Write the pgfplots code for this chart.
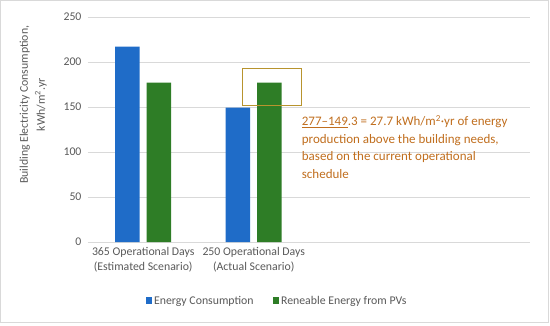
\documentclass[border=0pt]{standalone}
\usepackage{fontspec}
\setmainfont{Carlito}
\usepackage{pgfplots}
\pgfplotsset{compat=1.18}
\definecolor{cblue}{RGB}{31,108,200}
\definecolor{cgreen}{RGB}{46,125,38}
\definecolor{txtc}{RGB}{192,110,30}
\definecolor{boxc}{RGB}{184,148,46}
\definecolor{gridc}{RGB}{217,217,217}
\definecolor{labc}{RGB}{89,89,89}
\begin{document}
\begin{tikzpicture}
\useasboundingbox (-88pt,-83pt) rectangle (462pt,242pt);
\draw[gridc, line width=0.8pt] (-87.5pt,-80pt) rectangle (460pt,241.5pt);
\begin{axis}[
  at={(0pt,0pt)}, anchor=south west,
  scale only axis, width=442pt, height=225pt,
  xmin=-0.5, xmax=3.5, ymin=0, ymax=250,
  ybar=7pt, bar width=24.5pt,
  clip=false,
  separate axis lines,
  axis x line*=bottom, axis y line*=left,
  y axis line style={draw=none},
  x axis line style={draw=gridc, line width=0.8pt, -},
  major tick length=0,
  ytick={0,50,100,150,200,250},
  ymajorgrids, grid style={gridc, line width=0.8pt},
  xtick={0,1},
  xticklabels={{365 Operational Days\\(Estimated Scenario)},{250 Operational Days\\(Actual Scenario)}},
  xticklabel style={align=center, font=\fontsize{11.8}{15}\selectfont, text=labc, yshift=-2pt},
  yticklabel style={font=\fontsize{11.8}{13}\selectfont, text=labc, xshift=-3pt},
  /pgf/number format/assume math mode=true,
  ylabel={Building Electricity Consumption,\\kWh/m\textsuperscript{2}.yr},
  ylabel style={at={(axis description cs:-0.124,0.61)}, anchor=center, align=center, font=\fontsize{11.8}{17}\selectfont, text=labc},
  legend style={at={(axis description cs:0.4276,-0.261)}, anchor=center, draw=none, legend columns=2, font=\fontsize{11.8}{13}\selectfont, text=labc, /tikz/every even column/.append style={column sep=17pt}},
  legend image code/.code={\fill[#1] (0pt,-3pt) rectangle (6.5pt,3.5pt);},
]
\addplot[fill=cblue, draw=none] coordinates {(0,217) (1,149.3)};
\addplot[fill=cgreen, draw=none] coordinates {(0,177) (1,177)};
\legend{Energy Consumption, Reneable Energy from PVs}
\draw[boxc, line width=0.9pt] (axis cs:0.90,152) rectangle (axis cs:1.434,193);
\node[anchor=north west, align=left, inner sep=0pt, text=txtc, font=\fontsize{13}{17.8}\selectfont] at (axis cs:1.434,141.2)
 {\underline{277–149}.3 = 27.7 kWh/m\textsuperscript{2}·yr of energy\\production above the building needs,\\based on the current operational\\schedule};
\end{axis}
\end{tikzpicture}
\end{document}
